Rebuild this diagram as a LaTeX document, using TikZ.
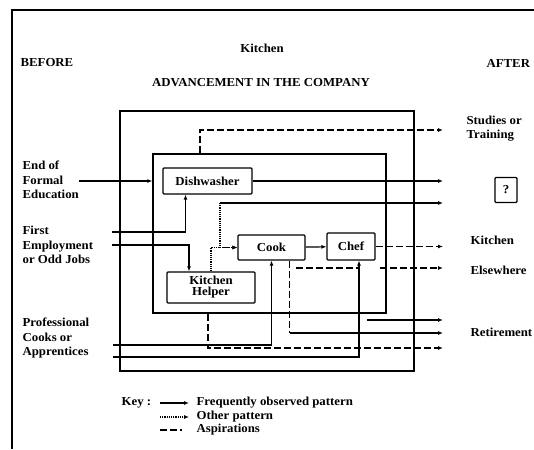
\documentclass[tikz,border=0pt]{standalone}
\usepackage{fontspec}
\setmainfont[FakeStretch=1.05]{Liberation Serif}
\usetikzlibrary{arrows.meta}

\begin{document}
\begin{tikzpicture}[
  x=1pt,y=-1pt,
  >={Latex[length=5pt,width=4pt]},
  line width=1.2pt,
  lbl/.style={font=\bfseries\fontsize{12.2}{14.5}\selectfont,inner sep=0pt,align=left},
  job/.style={draw,rounded corners=1pt,inner sep=0pt,align=center,
    font=\bfseries\fontsize{12.2}{14}\selectfont},
  area/.style={draw,inner sep=0pt},
  flow/.style={->},
  other/.style={->,densely dotted},
  aspire/.style={dash pattern=on 7pt off 3pt}
]
  \useasboundingbox (0,0) rectangle (534,449);
  \draw (534,10) -- (12,10) -- (12,449);

  \node[lbl] (title) at (262,48) {Kitchen};
  \node[lbl,anchor=west] (before) at (20,63) {BEFORE};
  \node[lbl,anchor=west] (after) at (486,63) {AFTER};
  \node[lbl] (adv) at (261,83) {ADVANCEMENT IN THE COMPANY};

  \node[area,minimum width=294,minimum height=260] (company) at (267,241) {};
  \node[area,minimum width=233,minimum height=159] (kitchen) at (269.5,233.5) {};

  \node[job,minimum width=89,minimum height=26] (dish) at (207.5,181) {Dishwasher};
  \node[job,minimum width=88,minimum height=31] (helper) at (211,287.5) {Kitchen\\[-3pt]Helper};
  \node[job,minimum width=67,minimum height=25] (cook) at (271.5,247.5) {Cook};
  \node[job,minimum width=48,minimum height=27] (chef) at (351,246.5) {Chef};
  \node[job,minimum width=22,minimum height=25] (unknown) at (506,190) {?};

  \node[lbl,anchor=west] (edu) at (22,180) {End of\\Formal\\Education};
  \node[lbl,anchor=west] (first) at (22,245) {First\\Employment\\or Odd Jobs};
  \node[lbl,anchor=west] (pro) at (22,338) {Professional\\Cooks or\\Apprentices};

  \node[lbl,anchor=west] (studies) at (466,128.5) {Studies or\\Training};
  \node[lbl,anchor=west] (stay) at (470,240) {Kitchen};
  \node[lbl,anchor=west] (elsewhere) at (470,270) {Elsewhere};
  \node[lbl,anchor=west] (retire) at (470,332) {Retirement};

  \coordinate (out) at (443,0);
  \coordinate (fe1) at (112,232);
  \coordinate (fe2) at (112,245);
  \coordinate (pc1) at (113,345);
  \coordinate (pc2) at (113,357);
  \coordinate (cp) at (220,203);
  \coordinate (el) at (380,268);
  \coordinate (rs) at (367,320);
  \coordinate (r0) at (443,130);
  \coordinate (r1) at (443,320);
  \coordinate (r2) at (443,333);
  \coordinate (r3) at (443,348);

  \draw[flow] (dish.west -| edu.east) -- (dish.west -| kitchen.west);
  \draw[flow] (fe1) -| ([xshift=-22]dish.south);
  \draw[flow] (fe2) -| ([xshift=-22]helper.north);
  \draw[flow] (dish.east) -- (dish.east -| out);
  \draw[flow] (cp) -- (cp -| out);
  \draw[other] (cp) |- (cook.west);
  \draw[other] (helper.north) |- (cook.west);
  \draw[flow] (cook) -- (chef);
  \draw[aspire,->] (chef.east) -- (chef.east -| out);
  \draw[aspire,->] (el) -- (el -| out);
  \draw[aspire] ([xshift=18]cook.south) -- ([xshift=18]cook.south |- r2);
  \draw[flow] ([xshift=18]cook.south |- r2) -- (r2);
  \draw[aspire] ([xshift=24]cook.south |- el) -- ([xshift=8]chef.south |- el);
  \draw[flow] (pc1) -| (cook.south);
  \draw[flow] (pc2) -| ([xshift=8]chef.south);
  \draw[aspire,->] ([xshift=-3]helper.south |- kitchen.south) |- (r3);
  \draw[flow] (rs) -- (r1);
  \draw[aspire,->] ([xshift=-69.5]kitchen.north) |- (r0);

  \node[lbl,anchor=west] (key) at (121,403) {Key :};
  \node[lbl,anchor=west] (kfreq) at (196,403) {Frequently observed pattern};
  \node[lbl,anchor=west] (kother) at (196,417) {Other pattern};
  \node[lbl,anchor=west] (kaspire) at (196,430) {Aspirations};
  \draw[flow] ([xshift=-36]kfreq.west) -- ([xshift=-7]kfreq.west);
  \draw[other] ([xshift=-36]kother.west) -- ([xshift=-7]kother.west);
  \draw[aspire] ([xshift=-36]kaspire.west) -- ([xshift=-14]kaspire.west);
\end{tikzpicture}
\end{document}
